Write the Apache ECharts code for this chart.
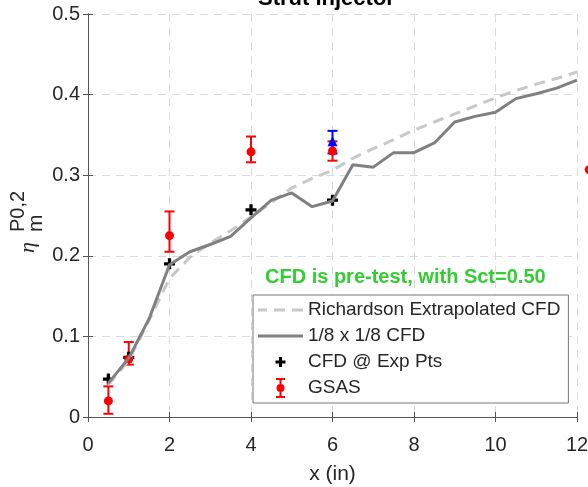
<!DOCTYPE html>
<html>
<head>
<meta charset="utf-8">
<script src="https://cdn.jsdelivr.net/npm/echarts@6/dist/echarts.min.js"></script>
<style>
  html, body { margin: 0; padding: 0; background: #fff; }
  #chart { width: 588px; height: 487px; }
</style>
</head>
<body>
<div id="chart"></div>
<script>
// curves: x in inches
const cfdX = [0.5, 1, 1.5, 2, 2.5, 3, 3.5, 4, 4.5, 5, 5.5, 6, 6.5, 7, 7.5, 8, 8.5, 9, 9.5, 10, 10.5, 11, 11.5, 12]
const richY = [0.040, 0.070, 0.120, 0.172, 0.198, 0.216, 0.231, 0.248, 0.266, 0.284, 0.296, 0.306, 0.321, 0.333, 0.344, 0.356, 0.366, 0.376, 0.386, 0.396, 0.405, 0.413, 0.420, 0.428]
const cfdY = [0.042, 0.073, 0.122, 0.189, 0.205, 0.214, 0.224, 0.247, 0.269, 0.278, 0.261, 0.268, 0.313, 0.310, 0.328, 0.328, 0.340, 0.366, 0.373, 0.378, 0.395, 0.401, 0.408, 0.418]

// CFD at experiment points
const expX = [0.5, 1, 2, 4, 6]
const expY = [0.047, 0.074, 0.190, 0.257, 0.269]

// GSAS measurements with error bars
const gsasX = [0.5, 1, 2, 4, 6]
const gsasY = [0.020, 0.072, 0.225, 0.329, 0.330]
const gsasLo = [0.004, 0.065, 0.205, 0.316, 0.318]
const gsasHi = [0.038, 0.093, 0.255, 0.348, 0.342]

// blue point at x=6
const blueX = [6]
const blueY = [0.342]
const blueLo = [0.327]
const blueHi = [0.355]

// red marker cut off at right edge
const edgeX = [12.3]
const edgeY = [0.307]

const xTicks = [0, 2, 4, 6, 8, 10, 12]
const yTicks = [0, 0.1, 0.2, 0.3, 0.4, 0.5]

const font = 'Liberation Sans, Arial, Helvetica, sans-serif'
const plusPath = 'path://M3.5,0H6.5V3.5H10V6.5H6.5V10H3.5V6.5H0V3.5H3.5Z'
// legend icons: tiny corner specks keep the 45x20 box so shapes are not stretched
const box = 'M0,0L0.01,0L0,0.01Z M45,20L44.99,20L45,19.99Z '
const dashLegend = 'path://' + box + 'M0,8.5H9V11.5H0Z M16,8.5H27V11.5H16Z M34,8.5H45V11.5H34Z'
const solidLegend = 'path://' + box + 'M0,8.5H45V11.5H0Z'
const plusLegend = 'path://' + box + 'M21,5H24V8.5H27.5V11.5H24V15H21V11.5H17.5V8.5H21Z'
const gsasLegend = 'path://' + box + 'M18,0H27V2H18Z M21.5,2H23.5V18H21.5Z M18,18H27V20H18Z M22.5,6A4,4 0 1 1 22.5,14A4,4 0 1 1 22.5,6Z'

function zip(a, b, c) {
    return a.map((v, i) => c ? [v, b[i], c[i]] : [v, b[i]])
}

function errBar(color) {
    return function (params, api) {
        let top = api.coord([api.value(0), api.value(2)])
        let bot = api.coord([api.value(0), api.value(1)])
        let w = 5
        let st = { stroke: color, lineWidth: 2 }
        return {
            type: 'group',
            children: [
                { type: 'line', shape: { x1: top[0], y1: top[1], x2: bot[0], y2: bot[1] }, style: st },
                { type: 'line', shape: { x1: top[0] - w, y1: top[1], x2: top[0] + w, y2: top[1] }, style: st },
                { type: 'line', shape: { x1: bot[0] - w, y1: bot[1], x2: bot[0] + w, y2: bot[1] }, style: st }
            ]
        }
    }
}

let myChart = echarts.init(document.getElementById('chart'))
let gridDash = { show: true, lineStyle: { type: [8, 6], color: '#dadada', width: 1 } }
let frame = { show: true, lineStyle: { color: '#555', width: 1 } }

let option = {
    animation: false,
    backgroundColor: '#fff',
    textStyle: { fontFamily: font },
    grid: { left: 88, top: 14, right: 11, bottom: 70, containLabel: false, outerBoundsMode: 'none' },
    legend: {
        orient: 'vertical',
        left: 253,
        top: 295,
        padding: [5, 8, 5, 5],
        itemWidth: 45,
        itemHeight: 20,
        itemGap: 6,
        backgroundColor: '#fff',
        borderColor: '#777',
        borderWidth: 1,
        borderRadius: 0,
        textStyle: { fontSize: 19, color: '#262626', fontFamily: font },
        data: [
            { name: 'Richardson Extrapolated CFD', icon: dashLegend, itemStyle: { color: '#c8c8c8' } },
            { name: '1/8 x 1/8 CFD', icon: solidLegend, itemStyle: { color: '#808080' } },
            { name: 'CFD @ Exp Pts', icon: plusLegend, itemStyle: { color: '#000' } },
            { name: 'GSAS', icon: gsasLegend, itemStyle: { color: '#f00' } }
        ]
    },
    graphic: [
        { type: 'text', left: 258, top: -12, style: { text: 'Strut Injector', font: 'bold 22px ' + font, fill: '#000' } },
        { type: 'text', left: 265, top: 267, style: { text: 'CFD is pre-test, with Sct=0.50', font: 'bold 20px ' + font, fill: '#33cc33' } },
        { type: 'text', x: 39, y: 253, rotation: Math.PI / 2, style: { text: 'η', font: 'italic 22px Liberation Serif, serif', fill: '#262626', align: 'left', verticalAlign: 'bottom' } },
        { type: 'text', x: 47, y: 232, rotation: Math.PI / 2, style: { text: 'm', font: '21px ' + font, fill: '#262626', align: 'left', verticalAlign: 'bottom' } },
        { type: 'text', x: 28, y: 232, rotation: Math.PI / 2, style: { text: 'P0,2', font: '20px ' + font, fill: '#262626', align: 'left', verticalAlign: 'bottom' } }
    ],
    xAxis: [{
        type: 'value', min: 0, max: 12, interval: 2,
        name: 'x (in)', nameLocation: 'middle', nameGap: 47,
        nameTextStyle: { fontSize: 21, color: '#262626', fontFamily: font },
        axisLine: frame,
        axisTick: { show: true, inside: true, length: 5, lineStyle: { color: '#555' } },
        axisLabel: { fontSize: 20, color: '#262626', margin: 18, formatter: v => xTicks.includes(v) ? String(v) : '' },
        splitLine: gridDash
    }, {
        type: 'value', position: 'top', min: 0, max: 12, interval: 2,
        axisLine: frame,
        axisTick: { show: true, inside: true, length: 5, lineStyle: { color: '#555' } },
        axisLabel: { show: false }, splitLine: { show: false }
    }],
    yAxis: [{
        type: 'value', min: 0, max: 0.5, interval: 0.1,
        axisLine: frame,
        axisTick: { show: true, inside: true, length: 5, lineStyle: { color: '#555' } },
        axisLabel: { fontSize: 20, color: '#262626', margin: 8, padding: [8, 0, 0, 0], formatter: v => String(+v.toFixed(1)) },
        splitLine: gridDash
    }, {
        type: 'value', position: 'right', min: 0, max: 0.5, interval: 0.1,
        axisLine: frame,
        axisTick: { show: true, inside: true, length: 5, lineStyle: { color: '#555' } },
        axisLabel: { show: false }, splitLine: { show: false }
    }],
    series: [
        {
            name: 'Richardson Extrapolated CFD', type: 'line', symbol: 'none',
            data: zip(cfdX, richY),
            lineStyle: { color: '#c8c8c8', width: 3, type: [11, 7] },
            itemStyle: { color: '#c8c8c8' }
        },
        {
            name: '1/8 x 1/8 CFD', type: 'line', symbol: 'none',
            data: zip(cfdX, cfdY),
            lineStyle: { color: '#808080', width: 3 },
            itemStyle: { color: '#808080' }
        },
        {
            name: 'CFD @ Exp Pts', type: 'scatter', symbol: plusPath, symbolSize: 11,
            data: zip(expX, expY), itemStyle: { color: '#000', opacity: 1 }
        },
        {
            name: 'GSAS err', type: 'custom', renderItem: errBar('#f00'),
            encode: { x: 0, y: [1, 2] },
            data: zip(gsasX, gsasLo, gsasHi)
        },
        {
            name: 'GSAS', type: 'scatter', symbol: 'circle', symbolSize: 9,
            data: zip(gsasX, gsasY), itemStyle: { color: '#f00', opacity: 1 }
        },
        {
            name: 'blue err', type: 'custom', renderItem: errBar('#00f'),
            encode: { x: 0, y: [1, 2] },
            data: zip(blueX, blueLo, blueHi)
        },
        {
            name: 'blue', type: 'scatter', symbol: 'triangle', symbolSize: 10,
            data: zip(blueX, blueY), itemStyle: { color: '#00f', opacity: 1 }
        },
        {
            name: 'edge', type: 'scatter', symbol: 'circle', symbolSize: 9, clip: false,
            data: zip(edgeX, edgeY), itemStyle: { color: '#f00', opacity: 1 }
        }
    ]
}
myChart.setOption(option)
</script>
</body>
</html>
